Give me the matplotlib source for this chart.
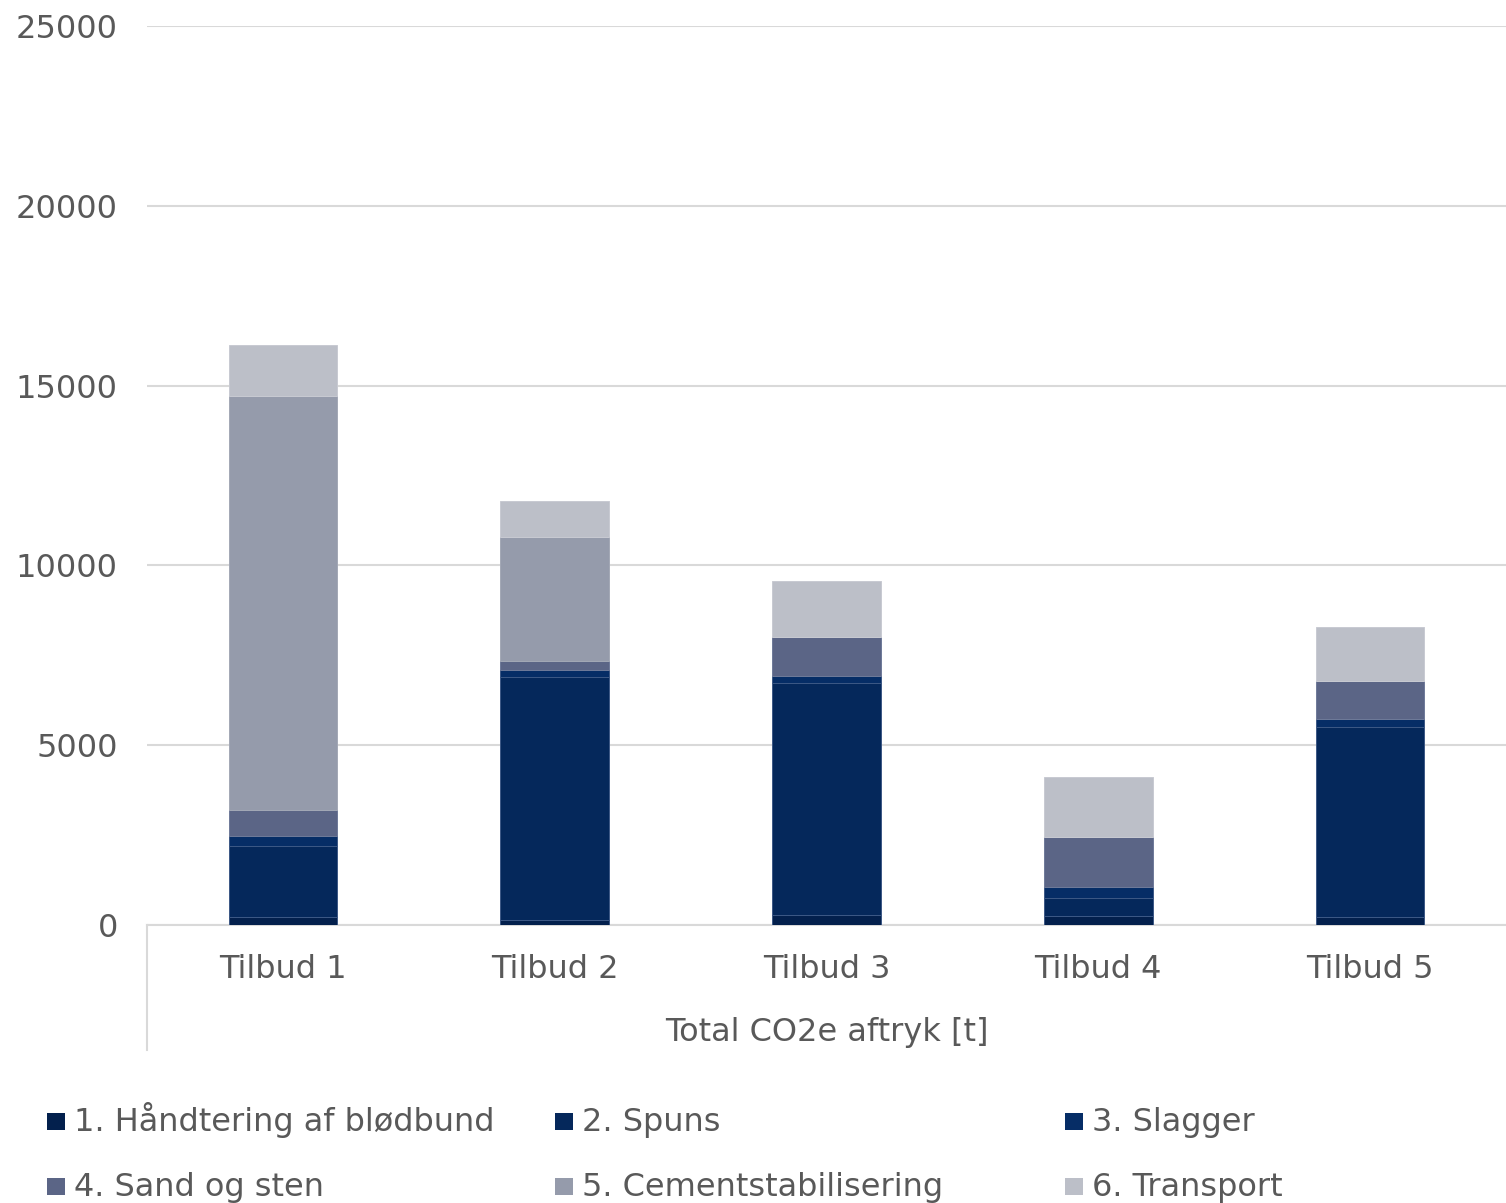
import matplotlib.pyplot as plt
from matplotlib.patches import Rectangle
from matplotlib.lines import Line2D

plt.rcParams['font.family'] = ['DejaVu Sans']

# data (t CO2e)
offers = ['Tilbud 1', 'Tilbud 2', 'Tilbud 3', 'Tilbud 4', 'Tilbud 5']
categories = ['1. Håndtering af blødbund', '2. Spuns', '3. Slagger',
              '4. Sand og sten', '5. Cementstabilisering', '6. Transport']
haandtering = [215, 140, 280, 250, 230]
spuns = [1995, 6750, 6440, 500, 5280]
slagger = [260, 190, 210, 295, 210]
sand_sten = [720, 260, 1090, 1390, 1065]
cement = [11520, 3460, 0, 0, 0]
transport = [1420, 990, 1555, 1670, 1495]

series = [haandtering, spuns, slagger, sand_sten, cement, transport]
colors = ['#03204d', '#05285b', '#062d66', '#5b6586', '#959bab', '#bcbfc8']
edges = ['#3c5885', '#3c5885', '#3c5885', '#6f7a99', '#a3a8b6', '#c8cad2']

text_col = '#595959'
grid_col = '#d9d9d9'
W, H = 1506, 1203

fig = plt.figure(figsize=(W / 100, H / 100), dpi=100)
ax = fig.add_axes([147 / W, 1 - 925 / H, 1 - 147 / W, (925 - 26) / H])

x = list(range(len(offers)))
bottom = [0] * len(offers)
for vals, c, ec in zip(series, colors, edges):
    ax.bar(x, vals, width=0.4, bottom=bottom, color=c, edgecolor=ec, linewidth=0.7, zorder=3)
    bottom = [b + v for b, v in zip(bottom, vals)]

ax.set_xlim(-0.5, len(offers) - 0.5)
ax.set_ylim(0, 25000)
ax.set_yticks(range(0, 25001, 5000))
ax.set_xticks(x)
ax.set_xticklabels(offers)
ax.yaxis.grid(True, color=grid_col, linewidth=1.5, zorder=0)
ax.tick_params(axis='both', length=0, labelsize=23, colors=text_col)
ax.tick_params(axis='y', pad=21)
ax.tick_params(axis='x', pad=21)
for s in ['top', 'right', 'left']:
    ax.spines[s].set_visible(False)
ax.spines['bottom'].set_color(grid_col)
ax.spines['bottom'].set_linewidth(1.5)

# left category axis line reaching down past the labels
fig.add_artist(Line2D([147 / W, 147 / W], [1 - 925 / H, 1 - 1050 / H],
                      color=grid_col, linewidth=1.5))

ax.set_xlabel('Total CO2e aftryk [t]', fontsize=23, color=text_col, labelpad=23)

# legend drawn by hand: three columns, two rows
col_x = [47, 555, 1065]
row_base = [1131, 1196]
for i, (lab, c) in enumerate(zip(categories, colors)):
    cx = col_x[i % 3]
    by = row_base[i // 3]
    fig.add_artist(Rectangle((cx / W, 1 - (by - 1) / H), 17.5 / W, 17.5 / H,
                             facecolor=c, edgecolor='none', transform=fig.transFigure))
    fig.text((cx + 27) / W, 1 - by / H, lab, fontsize=23, color=text_col,
             ha='left', va='baseline')

fig.savefig('out.png', dpi=100)
